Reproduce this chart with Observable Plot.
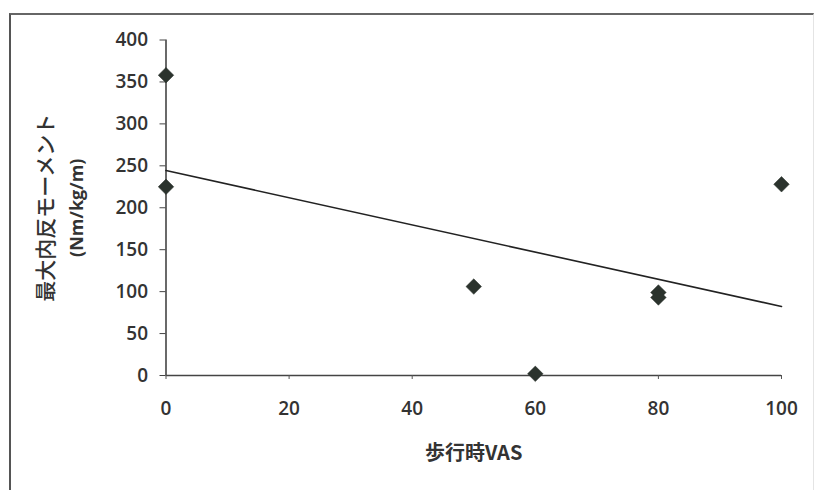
<!DOCTYPE html>
<html>
<head>
<meta charset="utf-8">
<script src="https://cdn.jsdelivr.net/npm/d3@7"></script>
<script src="https://cdn.jsdelivr.net/npm/@observablehq/plot@0.6"></script>
<style>
  html, body { margin: 0; padding: 0; background: #fff; }
  #wrap { position: relative; width: 814px; height: 490px; overflow: hidden; }
  #frame { position: absolute; left: 9px; top: 13px; width: 802px; height: 500px;
           border-left: 2px solid #555; border-top: 2px solid #666; border-right: 1px solid #e4e4e4; }
  #wrap svg { position: absolute; left: 0; top: 0; }
</style>
</head>
<body>
<div id="wrap"><div id="frame"></div></div>
<script>
const vasWalking = [0, 0, 50, 60, 80, 80, 100];
const maxAdductionMoment = [358, 225, 106, 2, 99, 93, 228];
const xTicks = [0, 20, 40, 60, 80, 100];
const yTicks = [0, 50, 100, 150, 200, 250, 300, 350, 400];
const xLabel = "歩行時VAS";
const yLabel1 = "最大内反モーメント";
const yLabel2 = "(Nm/kg/m)";

const data = vasWalking.map((x, i) => ({x, y: maxAdductionMoment[i]}));

const tickFont = "'Open Sans', 'Liberation Sans', sans-serif";
const cjkFont = "'Noto Sans CJK JP', sans-serif";

const chart = Plot.plot({
  width: 814,
  height: 490,
  marginLeft: 165.5,
  marginRight: 33,
  marginTop: 39.5,
  marginBottom: 115,
  style: {background: "transparent", fontFamily: tickFont},
  x: {domain: [0, 100]},
  y: {domain: [0, 400]},
  marks: [
    Plot.ruleX([0], {stroke: "#444", strokeWidth: 1.6}),
    Plot.ruleY([0], {stroke: "#444", strokeWidth: 1.6}),
    Plot.axisY({ticks: yTicks, tickSize: 6, tickPadding: 12, label: null,
      stroke: "#444", fill: "#333", fontSize: 19, fontWeight: 600, fontFamily: tickFont}),
    Plot.axisX({ticks: xTicks, tickSize: 4, tickPadding: 22, label: null,
      stroke: "#555", fill: "#333", fontSize: 19, fontWeight: 600, fontFamily: tickFont}),
    Plot.linearRegressionY(data, {x: "x", y: "y", ci: 0, stroke: "#222", strokeWidth: 1.6}),
    Plot.dot(data, {x: "x", y: "y", symbol: "diamond2", r: 7, fill: "#2b332d", stroke: "#2b332d", strokeWidth: 0.5}),
    Plot.text([xLabel], {frameAnchor: "bottom", dy: 84, text: d => d,
      fontSize: 20, fontWeight: 600, fontFamily: cjkFont, fill: "#333"}),
    Plot.text([yLabel1], {frameAnchor: "left", textAnchor: "middle", dx: -120, dy: 0, rotate: -90, text: d => d,
      fontSize: 21, fontWeight: 500, fontFamily: cjkFont, fill: "#333"}),
    Plot.text([yLabel2], {frameAnchor: "left", textAnchor: "middle", dx: -89, dy: 0, rotate: -90, text: d => d,
      fontSize: 18, fontWeight: 700, fontFamily: tickFont, fill: "#333"})
  ]
});
document.getElementById("wrap").appendChild(chart);
</script>
</body>
</html>
